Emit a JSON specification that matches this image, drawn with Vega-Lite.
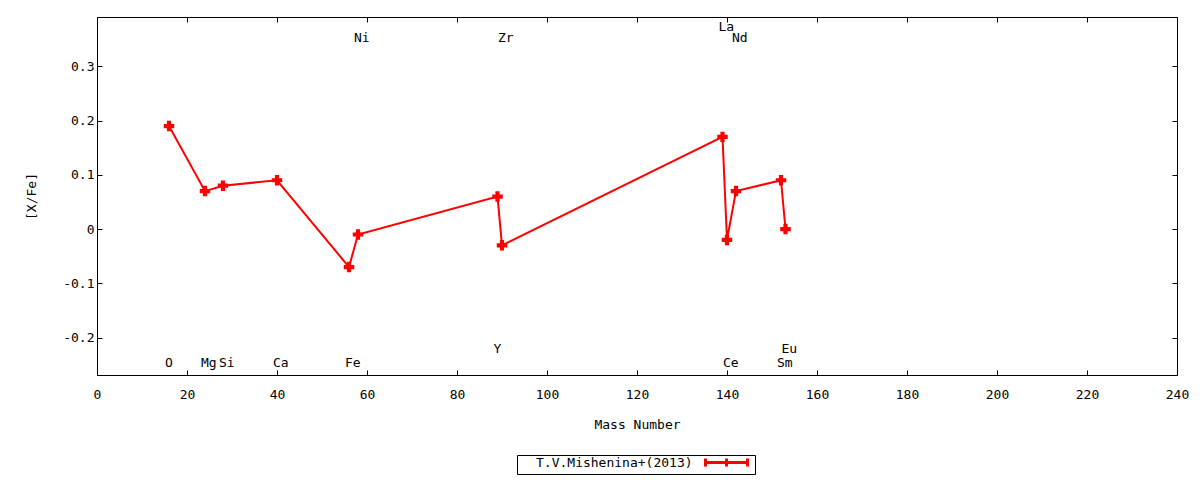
{
  "$schema": "https://vega.github.io/schema/vega-lite/v6.json",
  "autosize": "none",
  "width": 1080,
  "height": 358,
  "padding": {"left": 97, "top": 17, "right": 23, "bottom": 105},
  "background": "white",
  "config": {
    "view": {"stroke": "black", "strokeWidth": 1},
    "font": "DejaVu Sans Mono",
    "axis": {
      "domain": false,
      "grid": false,
      "labelFlush": false,
      "tickColor": "black",
      "tickSize": -5,
      "labelFont": "DejaVu Sans Mono",
      "labelFontSize": 13,
      "labelColor": "black",
      "titleFont": "DejaVu Sans Mono",
      "titleFontSize": 13,
      "titleFontWeight": "normal",
      "titleColor": "black"
    }
  },
  "data": {
    "values": [
      {"el": "O", "mass": 16, "xfe": 0.19, "label_y": -0.247},
      {"el": "Mg", "mass": 24, "xfe": 0.07, "label_y": -0.247},
      {"el": "Si", "mass": 28, "xfe": 0.08, "label_y": -0.247},
      {"el": "Ca", "mass": 40, "xfe": 0.09, "label_y": -0.247},
      {"el": "Fe", "mass": 56, "xfe": -0.07, "label_y": -0.247},
      {"el": "Ni", "mass": 58, "xfe": -0.01, "label_y": 0.353},
      {"el": "Y", "mass": 89, "xfe": 0.06, "label_y": -0.221},
      {"el": "Zr", "mass": 90, "xfe": -0.03, "label_y": 0.353},
      {"el": "La", "mass": 139, "xfe": 0.17, "label_y": 0.372},
      {"el": "Ce", "mass": 140, "xfe": -0.02, "label_y": -0.247},
      {"el": "Nd", "mass": 142, "xfe": 0.07, "label_y": 0.353},
      {"el": "Sm", "mass": 152, "xfe": 0.09, "label_y": -0.247},
      {"el": "Eu", "mass": 153, "xfe": 0.0, "label_y": -0.221}
    ]
  },
  "transform": [{"calculate": "'T.V.Mishenina+(2013)'", "as": "source"}],
  "layer": [
    {
      "mark": {"type": "line", "strokeWidth": 2},
      "encoding": {
        "x": {
          "field": "mass", "type": "quantitative",
          "scale": {"domain": [0, 240], "nice": false, "zero": false},
          "axis": {"values": [0, 20, 40, 60, 80, 100, 120, 140, 160, 180, 200, 220, 240], "format": "d", "labelPadding": 18, "title": "Mass Number", "titlePadding": 17}
        },
        "y": {
          "field": "xfe", "type": "quantitative",
          "scale": {"domain": [-0.269, 0.391], "nice": false, "zero": false},
          "axis": {"values": [-0.2, -0.1, 0, 0.1, 0.2, 0.3], "labelExpr": "toString(datum.value)", "labelPadding": 8, "title": "[X/Fe]", "titlePadding": 24}
        },
        "color": {
          "field": "source", "type": "nominal",
          "scale": {"range": ["#ff0000"]},
          "legend": {
            "title": null,
            "orient": "none",
            "legendX": 420,
            "legendY": 438,
            "strokeColor": "black",
            "padding": 1,
            "symbolType": "M-4.2,0H4.2M-4.2,-0.8V0.8M0,-0.8V0.8M4.2,-0.8V0.8",
            "symbolSize": 100,
            "symbolStrokeWidth": 3,
            "symbolStrokeColor": "#ff0000",
            "symbolOffset": 202,
            "labelFont": "DejaVu Sans Mono",
            "labelFontSize": 13,
            "labelColor": "black",
            "labelAlign": "left",
            "labelOffset": -197
          }
        }
      }
    },
    {
      "mark": {"type": "point", "shape": "cross", "filled": true, "size": 110, "opacity": 1, "color": "#ff0000"},
      "encoding": {
        "x": {"field": "mass", "type": "quantitative", "axis": {"orient": "top", "labels": false, "title": null, "values": [0, 20, 40, 60, 80, 100, 120, 140, 160, 180, 200, 220, 240]}},
        "y": {"field": "xfe", "type": "quantitative", "axis": {"orient": "right", "labels": false, "title": null, "values": [-0.2, -0.1, 0, 0.1, 0.2, 0.3]}}
      }
    },
    {
      "mark": {"type": "text", "align": "left", "baseline": "middle", "dx": -4, "fontSize": 13, "font": "DejaVu Sans Mono", "color": "black"},
      "encoding": {
        "x": {"field": "mass", "type": "quantitative", "axis": null},
        "y": {"field": "label_y", "type": "quantitative", "axis": null},
        "text": {"field": "el"}
      }
    }
  ],
  "resolve": {"axis": {"x": "independent", "y": "independent"}}
}
